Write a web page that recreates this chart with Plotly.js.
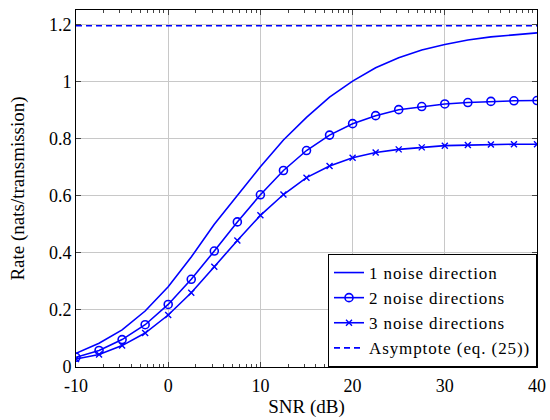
<!DOCTYPE html>
<html>
<head>
<meta charset="utf-8">
<script src="https://cdn.plot.ly/plotly-3.0.1.min.js"></script>
<style>
html,body{margin:0;padding:0;background:#fff;}
#chart{width:550px;height:420px;}
.legendtext{letter-spacing:0.9px;}
</style>
</head>
<body>
<div id="chart"></div>
<script>
// SNR in dB
const snr = [-10, -7.5, -5, -2.5, 0, 2.5, 5, 7.5, 10, 12.5, 15, 17.5, 20, 22.5, 25, 27.5, 30, 32.5, 35, 37.5, 40];
// Rate (nats/transmission)
const rate1 = [0.048, 0.083, 0.130, 0.196, 0.281, 0.385, 0.500, 0.602, 0.701, 0.795, 0.874, 0.945, 1.001, 1.048, 1.083, 1.110, 1.129, 1.145, 1.156, 1.163, 1.170];
const rate2 = [0.034, 0.058, 0.096, 0.148, 0.219, 0.307, 0.406, 0.508, 0.603, 0.688, 0.758, 0.812, 0.852, 0.880, 0.901, 0.912, 0.921, 0.926, 0.930, 0.932, 0.933];
const rate3 = [0.028, 0.044, 0.075, 0.119, 0.182, 0.260, 0.351, 0.443, 0.531, 0.604, 0.663, 0.704, 0.733, 0.751, 0.762, 0.769, 0.775, 0.777, 0.779, 0.780, 0.780];
const asymptote = 1.195;
const seriesNames = ['1 noise direction', '2 noise directions', '3 noise directions', 'Asymptote (eq. (25))'];
const xTicks = [-10, 0, 10, 20, 30, 40];
const yTicks = [0, 0.2, 0.4, 0.6, 0.8, 1, 1.2];

const blue = 'rgb(0,0,255)';
// log-style minor ticks inside each decade (as in the reference axis)
const minorX = [];
for (let i = 0; i < xTicks.length - 1; i++) {
  for (let k = 2; k <= 9; k++) minorX.push(xTicks[i] + 10 * Math.log10(k));
}

const traces = [
  {x: snr, y: rate1, name: seriesNames[0], mode: 'lines', line: {color: blue, width: 1.6}},
  {x: snr, y: rate2, name: seriesNames[1], mode: 'lines+markers', line: {color: blue, width: 1.6},
   marker: {symbol: 'circle-open', size: 8, color: blue, line: {width: 1.6, color: blue}}},
  {x: snr, y: rate3, name: seriesNames[2], mode: 'lines+markers', line: {color: blue, width: 1.6},
   marker: {symbol: 'x-thin', size: 6, color: blue, line: {width: 1.4, color: blue}}},
  {x: [snr[0], snr[snr.length - 1]], y: [asymptote, asymptote], name: seriesNames[3], mode: 'lines',
   line: {color: blue, width: 1.6, dash: '6px,4px'}}
];

const fam = 'Liberation Serif';
const tickFont = {family: fam, size: 18, color: '#000'};
const titleFont = {family: fam, size: 19, color: '#000'};
const legFont = {family: fam, size: 17, color: '#000'};
const layout = {
  width: 550, height: 420,
  margin: {l: 76, r: 13, t: 10, b: 53},
  paper_bgcolor: '#fff', plot_bgcolor: '#fff',
  font: tickFont,
  showlegend: true,
  xaxis: {
    range: [-10, 40], tickvals: xTicks, ticktext: xTicks.map(String),
    showline: true, linecolor: '#000', linewidth: 1, mirror: 'ticks',
    ticks: 'inside', ticklen: 5, tickcolor: '#444', ticklabelstandoff: 2,
    showgrid: true, gridcolor: '#c8c8c8', gridwidth: 1, zeroline: false,
    minor: {tickmode: 'array', tickvals: minorX, ticks: 'inside', ticklen: 3, tickcolor: '#444', showgrid: false},
    title: {text: 'SNR (dB)', font: titleFont, standoff: 3},
    tickfont: tickFont
  },
  yaxis: {
    range: [0, 1.25], tickvals: yTicks, ticktext: yTicks.map(String),
    showline: true, linecolor: '#000', linewidth: 1, mirror: 'ticks',
    ticks: 'inside', ticklen: 5, tickcolor: '#444',
    showgrid: true, gridcolor: '#c8c8c8', gridwidth: 1, zeroline: false,
    title: {text: 'Rate (nats/transmission)', font: titleFont, standoff: 19},
    tickfont: tickFont
  },
  legend: {
    x: 1, y: 0, xanchor: 'right', yanchor: 'bottom',
    bgcolor: '#fff', bordercolor: '#000', borderwidth: 1,
    font: legFont, tracegroupgap: 0, itemwidth: 30
  }
};

Plotly.newPlot('chart', traces, layout, {displayModeBar: false, staticPlot: true});
</script>
</body>
</html>
